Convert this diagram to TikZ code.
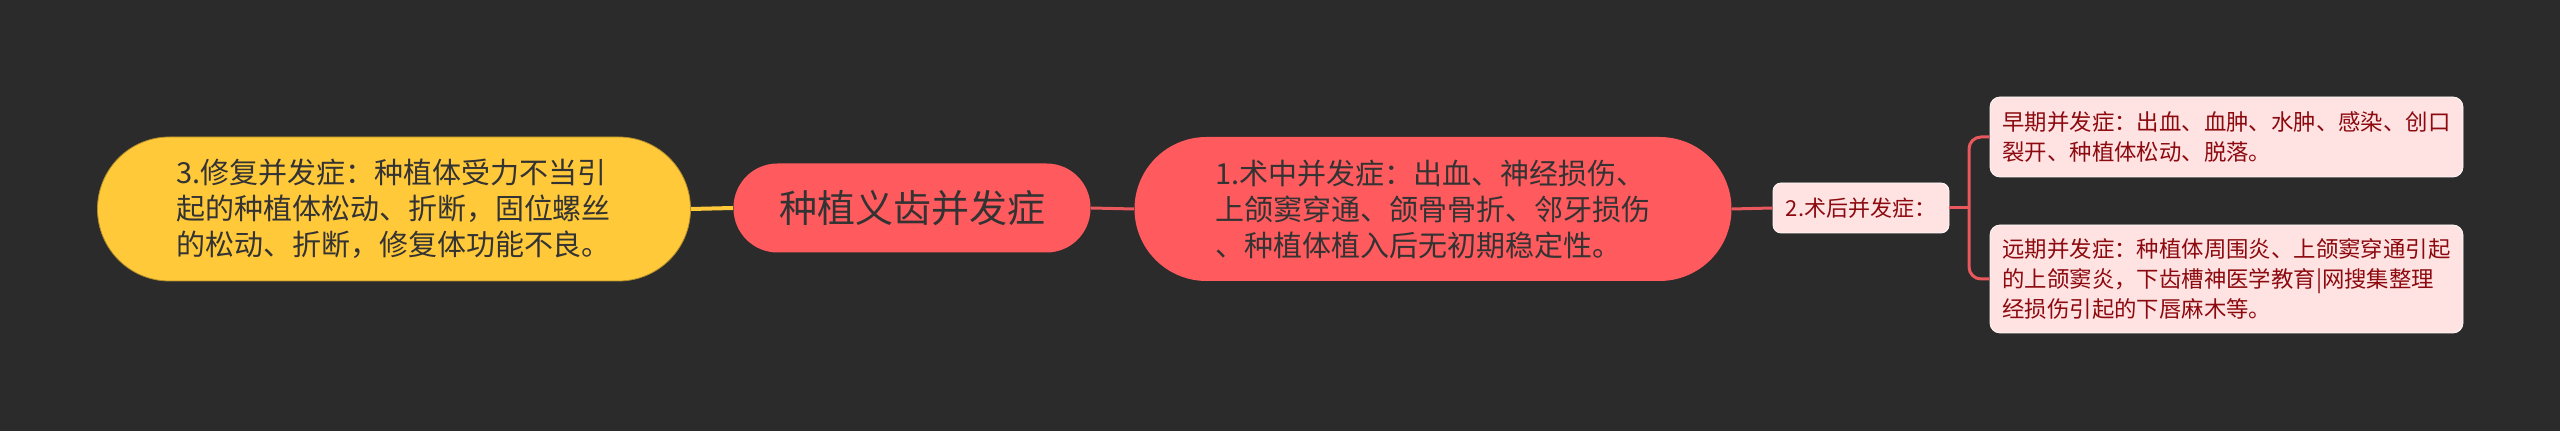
\documentclass[tikz,border=0pt]{standalone}
\usepackage{fontspec}
\setmainfont{Noto Sans CJK SC}
\usetikzlibrary{positioning}
\definecolor{bgdark}{HTML}{2B2B2B}
\definecolor{mainred}{HTML}{FF5A5E}
\definecolor{subyellow}{HTML}{FFC93A}
\definecolor{leafpink}{HTML}{FFE3E3}
\definecolor{leaftext}{HTML}{8C0A0F}
\definecolor{linered}{HTML}{E8585D}
\newcommand{\textdark}{black!80}
\newcommand{\borderyellow}{subyellow!70!black}

\begin{document}
\begin{tikzpicture}[x=0.5pt,y=-0.5pt,inner sep=0,
	root/.style={fill=mainred,rounded corners=22pt,minimum width=178.5pt,minimum height=44.5pt,text=\textdark,font=\fontsize{19}{22}\selectfont},
	sub/.style={rounded corners=36pt,minimum width=#1,minimum height=72pt,text=\textdark,text width=218pt,align=left,font=\fontsize{14.5}{18}\selectfont},
	small/.style={fill=leafpink,draw=white!80!leafpink,rounded corners=4pt,minimum width=88pt,minimum height=25pt,text=leaftext,font=\fontsize{11}{14}\selectfont},
	leaf/.style={fill=leafpink,draw=white!80!leafpink,rounded corners=5pt,minimum width=236.5pt,minimum height=#1,text=leaftext,text width=224pt,align=left,font=\fontsize{11.2}{15}\selectfont},
	link/.style={draw=linered,line width=1.5pt}]
	\useasboundingbox[fill=bgdark] (0,0) rectangle (2560,431);
	%%
	\node[root] (root) at (912,208) {种植义齿并发症};
	\node[sub=296.5pt,fill=subyellow,draw=\borderyellow,thin] (fix) at (394,209) {3.修复并发症：种植体受力不当引\\起的种植体松动、折断，固位螺丝\\的松动、折断，修复体功能不良。};
	\node[sub=298.5pt,fill=mainred] (op) at (1433,209) {1.术中并发症：出血、神经损伤、\\上颌窦穿通、颌骨骨折、邻牙损伤\\、种植体植入后无初期稳定性。};
	%%
	\node[small] (post) at (1861,208) {2.术后并发症：};
	\coordinate (fork) at (1969,208);
	\node[leaf=40pt] (early) at (2226.5,137) {早期并发症：出血、血肿、水肿、感染、创口\\裂开、种植体松动、脱落。};
	\node[leaf=54pt] (late) at (2226.5,279) {远期并发症：种植体周围炎、上颌窦穿通引起\\的上颌窦炎，下齿槽神医学教育|网搜集整理\\经损伤引起的下唇麻木等。};
	%%
	\draw[draw=subyellow,line width=2pt] (fix.east) -- (root.west);
	\draw[link] (root.east) -- (op.west);
	\draw[link] (op.east) -- (post.west);
	\draw[link] (post.east) -- (fork);
	\draw[link,rounded corners=6pt] (fork) |- (early.west);
	\draw[link,rounded corners=6pt] (fork) |- (late.west);
\end{tikzpicture}
\end{document}
